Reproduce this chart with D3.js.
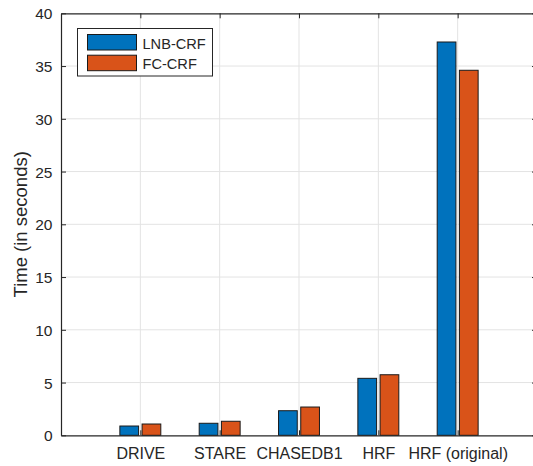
<!DOCTYPE html>
<html>
<head>
<meta charset="utf-8">
<script src="https://cdn.jsdelivr.net/npm/d3@7"></script>
<style>
  body { margin: 0; background: #fff; }
  svg { display: block; font-family: "Liberation Sans", Arial, sans-serif; }
</style>
</head>
<body>
<div id="chart-area"></div>
<script>
// data
var categories = ["DRIVE", "STARE", "CHASEDB1", "HRF", "HRF (original)"];
var seriesNames = ["LNB-CRF", "FC-CRF"];
var lnbCrf = [0.88, 1.14, 2.33, 5.4, 37.28];
var fcCrf = [1.07, 1.33, 2.68, 5.74, 34.6];
var yTicks = [0, 5, 10, 15, 20, 25, 30, 35, 40];
var colors = ["#0072BD", "#D95319"];

var W = 533, H = 466;
// note: "top" is reserved on window, so plot edges get their own names
var pLeft = 61, pTop = 13.3, pRight = 537, pBottom = 435.3;

var svg = d3.select("#chart-area").append("svg")
  .attr("width", W)
  .attr("height", H);

// scales
var x = d3.scaleLinear().domain([0, 6]).range([pLeft, pRight]);
var y = d3.scaleLinear().domain([0, 40]).range([pBottom, pTop]);
var barW = 0.236, offs = [-0.14, 0.14];

// grid
svg.append("g").selectAll("line").data(yTicks.slice(1, -1)).enter().append("line")
  .attr("x1", pLeft).attr("x2", pRight)
  .attr("y1", function(d){ return y(d); }).attr("y2", function(d){ return y(d); })
  .attr("stroke", "#e3e3e3").attr("stroke-width", 1);
svg.append("g").selectAll("line").data(categories).enter().append("line")
  .attr("x1", function(d, i){ return x(i + 1); }).attr("x2", function(d, i){ return x(i + 1); })
  .attr("y1", pTop).attr("y2", pBottom)
  .attr("stroke", "#e3e3e3").attr("stroke-width", 1);

// bars
var series = [lnbCrf, fcCrf];
series.forEach(function(vals, s){
  svg.append("g").selectAll("rect").data(vals).enter().append("rect")
    .attr("x", function(d, i){ return x(i + 1 + offs[s] - barW / 2); })
    .attr("width", x(barW) - x(0))
    .attr("y", function(d){ return y(d); })
    .attr("height", function(d){ return y(0) - y(d); })
    .attr("fill", colors[s])
    .attr("stroke", "#1a1a1a")
    .attr("stroke-width", 1);
});

// axes (MATLAB box style, ticks inside)
var axisCol = "#262626";
var yAxis = d3.axisLeft(y).tickValues(yTicks).tickSizeInner(-5).tickSizeOuter(0).tickPadding(8.5);
var gy = svg.append("g").attr("transform", "translate(" + pLeft + ",0)").call(yAxis);
var yAxisR = d3.axisRight(y).tickValues(yTicks).tickSizeInner(-5).tickSizeOuter(0).tickFormat("");
var gyr = svg.append("g").attr("transform", "translate(" + pRight + ",0)").call(yAxisR);
var xAxis = d3.axisBottom(x).tickValues([1, 2, 3, 4, 5]).tickSizeInner(-5).tickSizeOuter(0)
  .tickPadding(12).tickFormat(function(d){ return categories[d - 1]; });
var gx = svg.append("g").attr("transform", "translate(0," + pBottom + ")").call(xAxis);
var xAxisT = d3.axisTop(x).tickValues([1, 2, 3, 4, 5]).tickSizeInner(-5).tickSizeOuter(0).tickFormat("");
var gxt = svg.append("g").attr("transform", "translate(0," + pTop + ")").call(xAxisT);

[gy, gyr, gx, gxt].forEach(function(g){
  g.select(".domain").attr("stroke", axisCol).attr("stroke-width", 1.2);
  g.selectAll(".tick line").attr("stroke", axisCol);
  g.selectAll(".tick text").attr("fill", axisCol).attr("font-size", "16px")
    .attr("font-family", "Liberation Sans, Arial, sans-serif");
});
gy.selectAll(".tick text").attr("font-size", "15.5px").attr("dy", "0.36em");

// y label
svg.append("text")
  .attr("transform", "translate(27," + (pTop + pBottom) / 2 + ") rotate(-90)")
  .attr("text-anchor", "middle")
  .attr("font-size", "18.5px")
  .attr("fill", axisCol)
  .text("Time (in seconds)");

// legend
var lg = svg.append("g");
lg.append("rect")
  .attr("x", 77.5).attr("y", 28.5).attr("width", 135).attr("height", 47.5)
  .attr("fill", "#fff").attr("stroke", axisCol).attr("stroke-width", 1);
seriesNames.forEach(function(name, i){
  lg.append("rect")
    .attr("x", 87.5).attr("y", 34.5 + i * 20.7).attr("width", 49).attr("height", 15.5)
    .attr("fill", colors[i]).attr("stroke", "#1a1a1a").attr("stroke-width", 1);
  lg.append("text")
    .attr("x", 142.5).attr("y", 49.2 + i * 19.6)
    .attr("font-size", "14.6px")
    .attr("fill", axisCol)
    .text(name);
});
</script>
</body>
</html>
